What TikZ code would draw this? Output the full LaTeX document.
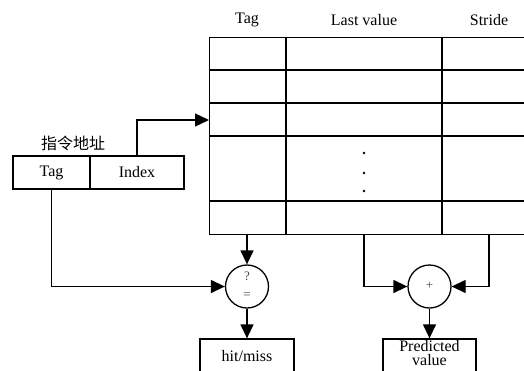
\documentclass[tikz,border=0pt]{standalone}
\usepackage{fontspec}
\setmainfont{Liberation Serif}
\newfontfamily\cjkfont{Noto Sans CJK SC}
\usetikzlibrary{arrows.meta}
\begin{document}
\begin{tikzpicture}[x=1pt,y=-1pt,
  line width=1.3pt,
  every node/.style={font=\fontsize{16}{14}\selectfont},
  arr/.style={-{Triangle[length=14pt,width=13pt]}},
  field/.style={draw,rectangle,minimum height=33pt,inner sep=0pt},
  opbox/.style={draw,rectangle,minimum height=34pt,minimum width=94pt,inner sep=0pt,align=center},
  op/.style={draw,circle,minimum size=43pt,inner sep=0pt},
  small/.style={font=\fontsize{13}{13}\selectfont,text=black!70}]
\clip (0,0) rectangle (524,370);
\fill[white] (0,0) rectangle (524,370);

% column headings
\node (hTag) at (247,20) {Tag};
\node (hLast) at (364,20) {Last value};
\node (hStride) at (489,20) {Stride};

% prediction table (right edge runs off the page)
\node[draw,rectangle,minimum width=340pt,minimum height=197pt,inner sep=0pt,anchor=north west] (tbl) at (209,37) {};
\foreach \yy in {70,103,136,201} \draw (209,\yy) -- (550,\yy);
\draw (286,37) -- (286,234);
\draw (442,37) -- (442,234);
\foreach \yy in {153,173,191} \fill (364,\yy) circle (1.3pt);

% instruction address
\node[font=\cjkfont\fontsize{16}{16}\selectfont] (addrlbl) at (73,143) {指令地址};
\node[field,minimum width=77pt] (tagf) at (51.5,172.5) {\raisebox{-1.5pt}{Tag}};
\node[field,minimum width=94pt] (idxf) at (137,172.5) {Index};

% comparator and adder
\node[op] (cmp) at (247,286.5) {};
\node[small] (q) at (247,276) {?};
\node[small] (eq) at (247,296) {=};
\node[op] (add) at (429.5,286.5) {};
\node[small] (plus) at (429.5,286) {+};

% outputs (boxes run off the bottom)
\node[opbox] (hm) at (247,356) {hit/miss};
\node[opbox,minimum width=93pt] (pv) at (429.5,356) {};
\node[align=center,inner sep=0pt] (pvtext) at (429.5,353.5) {Predicted\\value};

% connection points on the table
\coordinate (rowin) at (209,120);
\coordinate (tagout) at (247,234);
\coordinate (lvout) at (364,234);
\coordinate (stout) at (489,234);

% connectors
\draw[arr] (idxf.north) |- (rowin);
\draw[arr] (tagout) -- (cmp.north);
\draw[arr] (tagf.south) |- (cmp.west);
\draw[arr] (cmp.south) -- (hm.north);
\draw[arr] (lvout) |- (add.west);
\draw[arr] (stout) |- (add.east);
\draw[arr] (add.south) -- (pv.north);
\end{tikzpicture}
\end{document}
